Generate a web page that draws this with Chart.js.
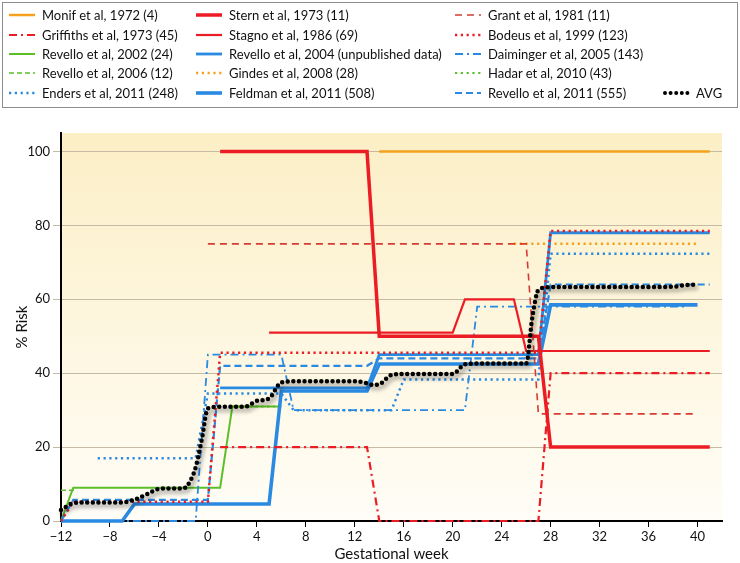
<!DOCTYPE html>
<html>
<head>
<meta charset="utf-8">
<script src="https://cdn.jsdelivr.net/npm/chart.js@4.4.1/dist/chart.umd.min.js"></script>
<style>
  html, body { margin: 0; padding: 0; background: #fff; }
  #wrap { position: relative; width: 740px; height: 563px; font-family: Lato, "Noto Sans", sans-serif; }
  #chart { position: absolute; left: 0; top: 0; }
  #legend { position: absolute; left: 2px; top: 2px; width: 734px; height: 104px; border: 1px solid #8c8c8c; }
  .item { position: absolute; height: 16px; display: flex; align-items: center; font-size: 13px; color: #111; white-space: nowrap; }
  .item svg { margin-right: 5px; }
</style>
</head>
<body>
<div id="wrap">
  <canvas id="chart" width="740" height="563"></canvas>
  <div id="legend"></div>
</div>
<script>
// [gestational week, % risk] vertices
const monif = [[14, 100], [41, 100]];
const stern = [[1, 100], [13, 100], [14, 50], [27, 50], [28, 20], [41, 20]];
const grant = [[0, 75], [26, 75], [27, 29], [40, 29]];
const griffiths = [[1, 20], [13, 20], [14, 0], [27, 0], [28, 40], [41, 40]];
const stagno = [[5, 51], [20, 51], [21, 60], [25, 60], [26, 46], [41, 46]];
const bodeus = [[-12, 0], [-11, 5.2], [0, 5.2], [1, 45.5], [27, 45.5], [28, 78.5], [41, 78.5]];
const revello2002 = [[-12, 0], [-11, 9], [1, 9], [2, 31], [6, 31]];
const revello2004 = [[1, 36], [13, 36], [14, 45], [27, 45], [28, 78], [41, 78]];
const daiminger = [[-12, 0], [-1, 0], [0, 45], [6, 45], [7, 30], [21, 30], [22, 58], [39, 58]];
const revello2006 = [[-12, 8.3], [-10.8, 8.3]];
const gindes = [[25, 75], [40, 75]];
const hadar = [[2, 31], [6, 31]];
const enders = [[-9, 17], [-1, 17], [0, 34.5], [6, 34.5], [7, 30], [15, 30], [16, 38.3], [27, 38.3], [28, 72.3], [41, 72.3]];
const feldman = [[-12, 0], [-7, 0], [-6, 4.6], [5, 4.6], [6, 35.2], [13, 35.2], [14, 42.5], [27, 42.5], [28, 58.5], [40, 58.5]];
const revello2011 = [[-12, 0], [-11, 5.7], [0, 5.7], [1, 42], [13, 42], [14, 44], [27, 44], [28, 64], [41, 64]];

const avgWeeks = [-12, -11, -10, -9, -8, -7, -6, -5, -4, -3, -2, -1.5, -1, -0.5, 0, 1, 2, 3, 4, 5, 6, 7, 8, 9, 10, 11, 12, 13, 13.5, 14, 15, 16, 17, 18, 19, 20, 21, 22, 23, 24, 25, 26, 26.5, 27, 28, 29, 30, 31, 32, 33, 34, 35, 36, 37, 38, 39, 40];
const avgRisk = [3, 4.8, 5, 5, 5, 5, 5.8, 7.2, 8.7, 8.8, 8.8, 10.5, 14.5, 22, 30.5, 30.9, 30.9, 30.9, 32.5, 33.2, 37.5, 37.8, 37.8, 37.8, 37.8, 37.8, 37.8, 37.3, 36.8, 37, 39.5, 39.8, 39.8, 39.8, 39.8, 39.8, 42.4, 42.6, 42.6, 42.6, 42.6, 42.6, 55, 62.5, 63.3, 63.3, 63.3, 63.3, 63.3, 63.3, 63.3, 63.3, 63.3, 63.3, 63.4, 63.8, 64];

const xTicks = [-12, -8, -4, 0, 4, 8, 12, 16, 20, 24, 28, 32, 36, 40];
const yTicks = [0, 20, 40, 60, 80, 100];

const RED = "#ec1c24", BLUE = "#2a8ae2", GREEN = "#5cbf2a", ORANGE = "#f4a21d";
const pts = (arr) => arr.map(([x, y]) => ({ x, y }));

function ds(label, data, color, width, dash, slot, cap) {
  return {
    label, data: pts(data), borderColor: color, borderWidth: width,
    borderDash: dash || [], borderCapStyle: cap || "butt",
    pointRadius: 0, fill: false, tension: 0, clip: false, slot
  };
}

const datasets = [
  Object.assign(ds("AVG", avgWeeks.map((w, i) => [w, avgRisk[i]]), "#000", 4.5, [0, 5.6], [3, 4], "round"),
    { tension: 0.4, cubicInterpolationMode: "monotone" }),
  ds("Stern et al, 1973 (11)", stern, RED, 3.5, null, [1, 0]),
  ds("Monif et al, 1972 (4)", monif, ORANGE, 2.5, null, [0, 0]),
  ds("Grant et al, 1981 (11)", grant, "#d63a33", 1.6, [7, 5], [2, 0]),
  ds("Griffiths et al, 1973 (45)", griffiths, RED, 2.2, [8, 4, 2, 4], [0, 1]),
  ds("Stagno et al, 1986 (69)", stagno, RED, 2.2, null, [1, 1]),
  ds("Bodeus et al, 1999 (123)", bodeus, RED, 2.5, [2.2, 3.6], [2, 1]),
  ds("Revello et al, 2004 (unpublished data)", revello2004, BLUE, 2.8, null, [1, 2]),
  ds("Feldman et al, 2011 (508)", feldman, BLUE, 3.6, null, [1, 4]),
  ds("Revello et al, 2011 (555)", revello2011, BLUE, 2.2, [7, 4], [2, 4]),
  ds("Daiminger et al, 2005 (143)", daiminger, BLUE, 1.8, [8, 4, 2, 4], [2, 2]),
  ds("Enders et al, 2011 (248)", enders, BLUE, 2.5, [2.2, 3.6], [0, 4]),
  ds("Gindes et al, 2008 (28)", gindes, ORANGE, 2.5, [2.2, 3.6], [1, 3]),
  ds("Revello et al, 2002 (24)", revello2002, GREEN, 2, null, [0, 2]),
  ds("Revello et al, 2006 (12)", revello2006, GREEN, 1.5, [5, 3], [0, 3]),
  ds("Hadar et al, 2010 (43)", hadar, GREEN, 2, [2.2, 3.6], [2, 3])
];

const chartDecor = {
  id: "chartDecor",
  beforeDraw(chart) {
    const { ctx, chartArea: a } = chart;
    const g = ctx.createLinearGradient(0, a.top, 0, a.bottom);
    g.addColorStop(0, "#fcefc6");
    g.addColorStop(1, "#fffdf7");
    ctx.save();
    ctx.fillStyle = g;
    ctx.fillRect(a.left, a.top, a.right - a.left, a.bottom - a.top);
    ctx.restore();
  },
  beforeDatasetDraw(chart, args) {
    if (chart.data.datasets[args.index].label === "AVG") {
      const ctx = chart.ctx;
      ctx.save();
      ctx.shadowColor = "rgba(0,0,0,0.45)";
      ctx.shadowBlur = 4;
      ctx.shadowOffsetX = 2;
      ctx.shadowOffsetY = 3;
    }
  },
  afterDatasetDraw(chart, args) {
    if (chart.data.datasets[args.index].label === "AVG") chart.ctx.restore();
  }
};

const tickFont = { family: "Lato, 'Noto Sans', sans-serif", size: 13 };
const titleFont = { family: "Lato, 'Noto Sans', sans-serif", size: 15 };
const minus = (v) => String(v).replace("-", "\u2212");

const chart = new Chart(document.getElementById("chart"), {
  type: "line",
  data: { datasets },
  options: {
    responsive: false,
    animation: false,
    layout: { padding: { top: 133, right: 18, left: 0, bottom: 0 } },
    plugins: { legend: { display: false }, tooltip: { enabled: false } },
    scales: {
      x: {
        type: "linear", min: -12, max: 42,
        afterBuildTicks: (s) => { s.ticks = xTicks.map((v) => ({ value: v })); },
        afterFit: (s) => { s.height = 42; },
        ticks: { color: "#111", font: tickFont, padding: 2, callback: minus, maxRotation: 0 },
        grid: { drawOnChartArea: false, drawTicks: true, tickLength: 6, tickColor: "#000", tickWidth: 1 },
        border: { display: true, color: "#000", width: 2 },
        title: { display: true, text: "Gestational week", color: "#111", font: titleFont, padding: { top: 2, bottom: 0 } }
      },
      y: {
        min: 0, max: 105,
        afterBuildTicks: (s) => { s.ticks = yTicks.map((v) => ({ value: v })); },
        afterFit: (s) => { s.width = 61; },
        ticks: { color: "#111", font: tickFont, padding: 3 },
        grid: { color: "#c5bba4", lineWidth: 1, tickLength: 8 },
        border: { display: true, color: "#000", width: 2 },
        title: { display: true, text: "% Risk", color: "#111", font: titleFont, padding: { top: 13, bottom: 0 } }
      }
    }
  },
  plugins: [chartDecor]
});

// legend in three columns (+ AVG in a fourth slot), built from the dataset styles
const colX = [9, 196, 455, 663];
const rowY = [15, 34.5, 54, 73, 92.5];
const legend = document.getElementById("legend");
chart.data.datasets.forEach((d) => {
  const [c, r] = d.slot;
  const item = document.createElement("div");
  item.className = "item";
  item.style.left = (colX[c] - 3) + "px";
  item.style.top = (rowY[r] - 3 - 8) + "px";
  const w = 28;
  const svg = `<svg width="${w}" height="8"><line x1="${d.borderCapStyle === "round" ? 2 : 0}" y1="4" x2="${w - 2}" y2="4" stroke="${d.borderColor}" stroke-width="${Math.min(d.borderWidth, 4)}" stroke-dasharray="${d.borderDash.join(" ")}" stroke-linecap="${d.borderCapStyle}"/></svg>`;
  item.innerHTML = svg + `<span>${d.label}</span>`;
  legend.appendChild(item);
});
</script>
</body>
</html>
